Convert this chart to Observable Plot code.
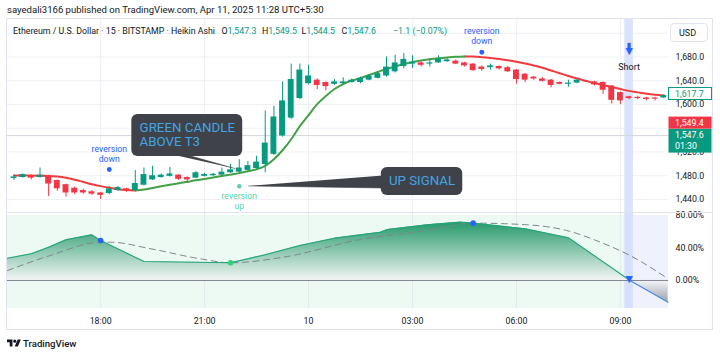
<!DOCTYPE html>
<html>
<head>
<meta charset="utf-8">
<script src="https://cdn.jsdelivr.net/npm/d3@7"></script>
<script src="https://cdn.jsdelivr.net/npm/@observablehq/plot@0.6"></script>
<style>
  html,body{margin:0;padding:0;background:#fff;}
  #wrap{position:relative;width:720px;height:355px;overflow:hidden;font-family:Roboto,"Liberation Sans",sans-serif;color:#131722;}
  .abs{position:absolute;white-space:nowrap;line-height:1;}
  .leg{font-size:8.8px;top:26.8px;}
  .g{color:#089981;}
  #frame{position:absolute;left:6px;top:18px;width:705px;height:310px;border:1px solid #e0e3eb;pointer-events:none;}
  #sep{position:absolute;left:7px;top:212px;width:705px;height:1px;background:#e0e3eb;}
  #usd{position:absolute;left:670px;top:22.5px;width:38px;height:19px;border:1px solid #e0e3eb;border-radius:4px;background:#fff;font-size:9px;line-height:19px;padding-left:8px;box-sizing:border-box;}
  svg.pane{position:absolute;left:0;}
</style>
</head>
<body>
<div id="wrap">
  <div class="abs" style="left:7px;top:5.3px;font-size:9.55px">sayedali3166 published on TradingView.com, Apr 11, 2025 11:28 UTC+5:30</div>
</div>
<script>
// ---------------- DATA ----------------
const firstBar = -10; // bar index of first candle (bar 0 = 18:00, 15-minute bars)
const opens  = [1475.5,1477,1480,1477,1480,1472,1465,1459,1455,1453,1451,1450,1455,1458,1455,1464,1473,1477,1479,1481,1477,1476,1479,1480,1481,1485,1486,1489,1492,1499,1516,1547,1577,1610,1635,1641,1637,1634,1635,1637,1637,1641,1644,1648,1655,1664,1668,1670,1668,1670,1672,1673,1670,1668,1663,1662,1664,1662,1658,1651,1646,1643,1641,1637,1634,1636,1640,1638,1637,1631,1620,1613,1612,1611,1611,1611];
const highs  = [1481,1483,1481,1493,1481,1473,1466,1461,1457,1455,1452,1462,1462,1459,1489,1493,1496,1483,1494,1482,1478,1487,1484,1484,1493,1499,1507,1504,1513,1589,1597,1638,1668,1668,1666,1643,1638,1642,1645,1643,1646,1650,1654,1680,1683,1686,1682,1672,1677,1682,1677,1675,1671,1669,1665,1668,1665,1664,1659,1652,1647,1645,1642,1638,1641,1642,1641,1639,1638,1632,1621,1614,1614,1612,1612,1616];
const lows   = [1472,1476,1473,1476,1445,1454,1444,1448,1449,1447,1440,1448,1454,1452,1454,1463,1472,1476,1478,1472,1467,1475,1478,1479,1480,1484,1485,1488,1491,1485,1514,1545,1575,1608,1633,1625,1623,1632,1633,1636,1635,1640,1643,1646,1653,1660,1661,1663,1663,1669,1671,1667,1663,1656,1656,1658,1658,1654,1634,1637,1641,1638,1628,1633,1629,1635,1637,1631,1617,1601,1600,1608,1608,1606,1606,1610];
const closes = [1478,1482,1476,1481,1466,1458,1451,1451,1451,1449,1447,1458,1460,1454,1467,1482,1480,1481,1483,1474,1473,1485,1482,1482.5,1486,1490,1493,1497,1503,1535,1579,1606,1642,1658,1648,1632,1630,1638,1638,1641,1644,1648,1652,1663,1670,1676,1671,1666,1670,1676,1675,1668,1665,1657,1659,1665,1660,1655,1642,1641,1643,1639,1632,1634,1636,1641,1638,1633,1624,1607,1606,1610,1610,1608.5,1609,1615];
const t3Values = [1480.2,1480.2,1480.2,1480.0,1479.7,1478.7,1476.6,1473.4,1469.6,1465.8,1462.5,1459.6,1457.4,1455.9,1455.2,1456.8,1459.5,1462.2,1464.8,1467.2,1469.7,1472.3,1474.6,1477.0,1479.5,1481.9,1484.4,1487.5,1490.8,1496.7,1507.7,1522.9,1541.5,1563.5,1582.0,1600.6,1614.1,1626.0,1634.4,1640.3,1644.5,1649.6,1654.7,1659.7,1664.0,1668.2,1671.6,1674.1,1676.3,1678.0,1679.3,1680.3,1680.8,1680.7,1679.7,1678.3,1676.6,1674.6,1672.1,1669.0,1665.6,1661.8,1657.2,1652.5,1647.9,1643.7,1639.8,1636.1,1632.7,1629.3,1626.0,1622.9,1620.4,1618.0,1616.3,1615.3];

const timeTickBars   = [0, 12, 24, 36, 48, 60];
const timeTickLabels = ["18:00", "21:00", "10", "03:00", "06:00", "09:00"];
const priceTicks = [1440, 1480, 1520, 1600, 1640, 1680];
const priceGrid  = [1440, 1480, 1520, 1560, 1600, 1640, 1680, 1720];
const pctTicks   = [0, 40, 80];

const oscBars   = [-10.75, -8, -6, -4, -1, 0, 5, 15, 19, 23, 27, 30, 32.3, 33.1, 37.7, 41.5, 43, 49, 54, 61.1, 65.5];
const oscValues = [27.4, 32.9, 41.0, 50.1, 56.2, 49.2, 23.4, 21.8, 31.6, 43.1, 52.1, 56.2, 59.4, 62.8, 68.6, 71.8, 70.6, 63.6, 52.6, 0, -26.7];
const signalBars   = [-10.75, -5.8, 0, 1.2, 5.8, 11.5, 15, 21.1, 30, 37.7, 43, 49.2, 53.8, 57.7, 61.1, 65.5];
const signalValues = [12.3, 30.8, 47.1, 47.1, 39.0, 26.7, 21.8, 28.7, 50.5, 61.5, 70.6, 68.6, 61.5, 47.1, 30.8, 2.1];
const oscCrossUpBars = [15];
const oscCrossDownBars = [0, 43];

const shortBar = 61;
const lastPrice = 1547.6, prevPrice = 1549.4, t3Last = 1617.7, countdown = "01:30";
const revDownBars = [1, 44], revDownPrices = [1490.5, 1688];
const revUpBars = [16], revUpPrices = [1462.4];
const calloutTexts = ["GREEN CANDLE\nABOVE T3", "UP SIGNAL"];
// callout geometry in data units (bar index, price)
const calloutBoxes = [
  {x1: 3.6, x2: 16.4, y1: 1512.4, y2: 1583.2, tx: 4.5, ty: 1549.5},
  {x1: 32.4, x2: 41.8, y1: 1446.8, y2: 1493.9, tx: 37.1, ty: 1470.8}
];
const calloutPointers = [
  [[8.8, 1514], [10.2, 1514], [15.5, 1492.2]],
  [[32.6, 1480.4], [32.6, 1459.4], [17.1, 1462.8]]
];

// ---------------- SCALES / STYLE ----------------
const xDomain = [-10.75, 65.55];
const priceDomain = [1418.1, 1744.8];
const pctDomain = [-34.5, 83.7];
const GREEN = "#089981", RED = "#f23645", T3_UP = "#43a047", T3_DN = "#ef3b3d";
const BLUE = "#2962ff", BOX = "#3f4249", CALL_TXT = "#42a5e6", TEAL = "#5cd0aa";
const tickLabelMap = new Map(timeTickBars.map((b, i) => [b, timeTickLabels[i]]));

const candles = opens.map((o, i) => ({k: firstBar + i, open: o, high: highs[i], low: lows[i], close: closes[i]}));
const upC = candles.filter(d => d.close >= d.open);
const dnC = candles.filter(d => d.close < d.open);
const bw = 0.34;

// T3 split into rising (green) / falling (red) segments
const t3Pts = t3Values.map((v, i) => ({k: firstBar + i, v}));
const segs = []; let cur = null;
for (let i = 1; i < t3Pts.length; i++) {
  const up = t3Pts[i].v > t3Pts[i - 1].v;
  if (!cur || cur.up !== up) { cur = {up, pts: [t3Pts[i - 1]]}; segs.push(cur); }
  cur.pts.push(t3Pts[i]);
}
const t3Rows = segs.flatMap((s, j) => s.pts.map(p => ({...p, seg: j, up: s.up})));

const callouts = calloutBoxes.map((b, i) => ({...b, text: calloutTexts[i]}));
const pointerRows = calloutPointers.flatMap((pts, id) => pts.map(([k, p]) => ({id, k, p})));
const revDown = revDownBars.map((k, i) => ({k, p: revDownPrices[i]}));
const revUp = revUpBars.map((k, i) => ({k, p: revUpPrices[i]}));

const baseStyle = {fontFamily: "Roboto, sans-serif", fontSize: "8.8px", color: "#131722", background: "transparent", overflow: "visible"};

// ---------------- PRICE PANE ----------------
const price = Plot.plot({
  width: 720, height: 194,
  marginLeft: 7, marginRight: 52, marginTop: 0, marginBottom: 0,
  style: baseStyle,
  x: {domain: xDomain, axis: null},
  y: {domain: priceDomain, axis: "right", ticks: priceTicks, tickFormat: d3.format(",.1f"), tickSize: 0, tickPadding: 7, label: null},
  marks: [
    Plot.ruleY(priceGrid, {stroke: "#eef0f4"}),
    Plot.ruleX(timeTickBars, {stroke: "#eef0f4"}),
    Plot.rect([shortBar], {x1: d => d - 0.5, x2: d => d + 0.5, fill: "#dbe3fc"}),
    Plot.ruleY([lastPrice], {stroke: "#d3d6dc"}),
    Plot.line(t3Rows.filter(d => !d.up), {x: "k", y: "v", z: "seg", stroke: T3_DN, strokeWidth: 2, curve: "monotone-x"}),
    Plot.line(t3Rows.filter(d => d.up), {x: "k", y: "v", z: "seg", stroke: T3_UP, strokeWidth: 2, curve: "monotone-x"}),
    Plot.ruleX(upC, {x: "k", y1: "low", y2: "high", stroke: GREEN}),
    Plot.ruleX(dnC, {x: "k", y1: "low", y2: "high", stroke: RED}),
    Plot.rect(upC, {x1: d => d.k - bw, x2: d => d.k + bw, y1: "open", y2: "close", fill: GREEN}),
    Plot.rect(dnC, {x1: d => d.k - bw, x2: d => d.k + bw, y1: "open", y2: "close", fill: RED}),
    // callouts
    Plot.line(pointerRows, {x: "k", y: "p", z: "id", fill: BOX, stroke: BOX, strokeWidth: 0.6}),
    Plot.rect(callouts, {x1: "x1", x2: "x2", y1: "y1", y2: "y2", fill: BOX, rx: 6}),
    Plot.text([callouts[0]], {x: "tx", y: "ty", text: "text", textAnchor: "start", fill: CALL_TXT, fontSize: 13.3, lineHeight: 1.03}),
    Plot.text([callouts[1]], {x: "tx", y: "ty", text: "text", fill: CALL_TXT, fontSize: 13.3}),
    // reversion markers
    Plot.dot(revDown, {x: "k", y: "p", r: 2.4, fill: BLUE}),
    Plot.text(revDown, {x: "k", y: "p", text: () => "reversion\ndown", dy: -16, fill: BLUE, fontSize: 8.7, lineHeight: 1.15}),
    Plot.dot(revUp, {x: "k", y: "p", r: 2.2, fill: TEAL}),
    Plot.text(revUp, {x: "k", y: "p", text: () => "reversion\nup", dy: 15, fill: TEAL, fontSize: 8.7, lineHeight: 1.1}),
    // short signal
    Plot.ruleX([shortBar], {y1: 1703, y2: 1693, stroke: BLUE, strokeWidth: 3.2}),
    Plot.text([shortBar], {x: d => d, y: 1690.5, text: () => "\u25BC", fill: BLUE, fontSize: 9.5, fontFamily: "DejaVu Sans"}),
    Plot.text([shortBar], {x: d => d, y: 1662.8, text: () => "Short", fill: "#131722", fontSize: 9})
  ]
});
price.classList.add("pane");
price.style.top = "18px";

// right-axis price labels
{
  const py = price.scale("y");
  const xr = 720 - 52;
  const s = d3.select(price).append("g").attr("font-size", 8.8).attr("font-family", "Roboto, sans-serif").attr("text-anchor", "start");
  const yl = py.apply(lastPrice);
  const box = (top, h, fill, stroke, color, lines) => {
    s.append("rect").attr("x", xr + 0.5).attr("y", top).attr("width", 43).attr("height", h)
      .attr("fill", fill).attr("stroke", stroke).attr("stroke-width", 1);
    lines.forEach((t, i) => s.append("text").attr("x", xr + 7).attr("y", top + 6.5 + i * 10.5)
      .attr("dy", "0.34em").attr("fill", color).text(t));
  };
  box(yl - 6.5, 24, GREEN, "none", "#fff", [d3.format(",.1f")(lastPrice), countdown]);
  box(yl - 18.5, 12, RED, "none", "#fff", [d3.format(",.1f")(prevPrice)]);
  const yt = py.apply(t3Last);
  box(yt - 6, 12, "#fff", GREEN, GREEN, [d3.format(",.1f")(t3Last)]);
}

// ---------------- OSCILLATOR PANE ----------------
const osc = oscBars.map((k, i) => ({k, v: oscValues[i]}));
const oscPos = osc.filter(d => d.v >= 0);
const oscNeg = osc.filter(d => d.v <= 0);
const sig = signalBars.map((k, i) => ({k, v: signalValues[i]}));
const oscVal = k => oscValues[oscBars.indexOf(k)];

const ind = Plot.plot({
  width: 720, height: 117,
  marginLeft: 7, marginRight: 52, marginTop: 0, marginBottom: 21,
  style: baseStyle,
  x: {domain: xDomain, ticks: timeTickBars, tickFormat: d => tickLabelMap.get(d), tickSize: 0, tickPadding: 9, label: null},
  y: {domain: pctDomain, axis: "right", ticks: pctTicks, tickFormat: d => d.toFixed(2) + "%", tickSize: 0, tickPadding: 7, label: null},
  marks: [
    Plot.rect([[xDomain[0], shortBar - 0.5]], {x1: d => d[0], x2: d => d[1], y1: pctDomain[0], y2: 80, fill: "#edfaf3"}),
    Plot.rect([[shortBar + 0.5, xDomain[1]]], {x1: d => d[0], x2: d => d[1], y1: pctDomain[0], y2: 80, fill: "#eff2fc"}),
    Plot.ruleX(timeTickBars, {stroke: "#e4e9ee"}),
    Plot.rect([shortBar], {x1: d => d - 0.5, x2: d => d + 0.5, fill: "#d6dffc"}),
    Plot.areaY(oscPos, {x: "k", y1: 0, y2: "v", fill: "url(#oscUpGrad)"}),
    Plot.areaY(oscNeg, {x: "k", y1: 0, y2: "v", fill: "url(#oscDnGrad)"}),
    Plot.ruleY([0], {stroke: "#808590"}),
    Plot.line(sig, {x: "k", y: "v", stroke: "#80848e", strokeWidth: 1, strokeDasharray: "6,4.5", curve: "monotone-x"}),
    Plot.line(oscPos, {x: "k", y: "v", stroke: "#22a57a", strokeWidth: 1.1}),
    Plot.line(oscNeg, {x: "k", y: "v", stroke: "#3f88e0", strokeWidth: 1.1}),
    Plot.dot(oscCrossDownBars, {x: d => d, y: d => oscVal(d), r: 2.8, fill: BLUE}),
    Plot.dot(oscCrossUpBars, {x: d => d, y: d => oscVal(d), r: 2.8, fill: "#2fcf7c"}),
    Plot.text([shortBar], {x: d => d, y: 2, text: () => "\u25BC", fill: BLUE, fontSize: 9.5, fontFamily: "DejaVu Sans"})
  ]
});
ind.classList.add("pane");
ind.style.top = "212px";
{
  const iy = ind.scale("y");
  const defs = d3.select(ind).insert("defs", ":first-child");
  const g1 = defs.append("linearGradient").attr("id", "oscUpGrad").attr("gradientUnits", "userSpaceOnUse")
    .attr("x1", 0).attr("x2", 0).attr("y1", iy.apply(72)).attr("y2", iy.apply(0));
  g1.append("stop").attr("offset", 0).attr("stop-color", "#24996a");
  g1.append("stop").attr("offset", 1).attr("stop-color", "#f3f5f4");
  const g2 = defs.append("linearGradient").attr("id", "oscDnGrad").attr("gradientUnits", "userSpaceOnUse")
    .attr("x1", 0).attr("x2", 0).attr("y1", iy.apply(0)).attr("y2", iy.apply(-27));
  g2.append("stop").attr("offset", 0).attr("stop-color", "#f6f6f8");
  g2.append("stop").attr("offset", 1).attr("stop-color", "#9ba1ab");
}

const wrap = document.getElementById("wrap");
wrap.appendChild(price);
wrap.appendChild(ind);
wrap.insertAdjacentHTML("beforeend", `
  <div id="sep"></div>
  <div id="frame"></div>
  <div class="abs leg" style="left:13px">Ethereum / U.S. Dollar · 15 · BITSTAMP · Heikin Ashi</div>
  <div class="abs leg" style="left:221.5px">O<span class="g">1,547.3</span></div>
  <div class="abs leg" style="left:262px">H<span class="g">1,549.5</span></div>
  <div class="abs leg" style="left:301.5px">L<span class="g">1,544.5</span></div>
  <div class="abs leg" style="left:341.5px">C<span class="g">1,547.6</span></div>
  <div class="abs leg g" style="left:393px">−1.1 (−0.07%)</div>
  <div id="usd">USD</div>
  <svg class="abs" style="left:7px;top:338px" width="14" height="11" viewBox="0 0 36 28"><path d="M14 22H7V11H0V4h14v18zM28 22h-8l7.5-18h8L28 22z" fill="#131722"/><circle cx="20" cy="8" r="4" fill="#131722"/></svg>
  <div class="abs" style="left:23px;top:339px;font-size:9.6px;font-weight:500">TradingView</div>
`);
</script>
</body>
</html>
